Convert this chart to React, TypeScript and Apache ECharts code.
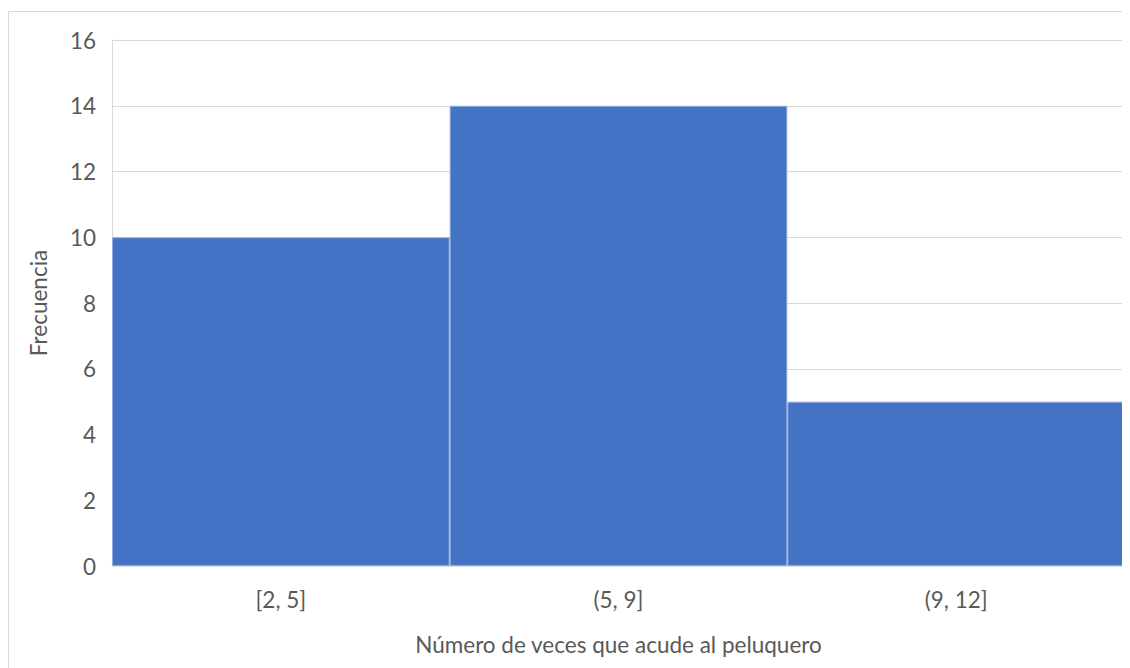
import React, { useEffect, useRef } from "react";
import * as echarts from "echarts";

const categories = ["[2, 5]", "(5, 9]", "(9, 12]"];
const frequencies = [10, 14, 5];
const yTicks = { min: 0, max: 16, interval: 2 };
const xTitle = "Número de veces que acude al peluquero";
const yTitle = "Frecuencia";

export default function App() {
  const ref = useRef<HTMLDivElement>(null);
  useEffect(() => {
    const chart = echarts.init(ref.current!, null, { renderer: "svg" });
    const font = "Lato, 'Open Sans', sans-serif";
    const fs = 22.5;
    chart.setOption({
      animation: false,
      backgroundColor: "#ffffff",
      textStyle: { fontFamily: font },
      graphic: [
        {
          type: "rect",
          shape: { x: 8.5, y: 11.5, width: 1140, height: 680 },
          style: { fill: "none", stroke: "#d9d9d9", lineWidth: 1 },
          silent: true,
          z: -1,
        },
      ],
      grid: { left: 112, right: 5, top: 40, bottom: 102 },
      xAxis: {
        type: "category",
        data: categories,
        name: xTitle,
        nameLocation: "middle",
        nameGap: 67,
        nameTextStyle: { fontSize: fs, color: "#595959", fontFamily: font },
        axisLine: { show: true, lineStyle: { color: "#d9d9d9", width: 1 } },
        axisTick: { show: false },
        axisLabel: { fontSize: fs, color: "#595959", margin: 22, fontFamily: font },
        splitLine: { show: false },
      },
      yAxis: {
        type: "value",
        min: yTicks.min,
        max: yTicks.max,
        interval: yTicks.interval,
        name: yTitle,
        nameLocation: "middle",
        nameGap: 62,
        nameTextStyle: { fontSize: fs, color: "#595959", fontFamily: font },
        axisLine: { show: true, lineStyle: { color: "#d9d9d9", width: 1 } },
        axisTick: { show: false },
        axisLabel: { fontSize: fs, color: "#595959", margin: 16, fontFamily: font },
        splitLine: { show: true, lineStyle: { color: "#d9d9d9", width: 1 } },
      },
      series: [
        {
          type: "bar",
          data: frequencies,
          barCategoryGap: "0%",
          itemStyle: {
            color: "#4472c4",
            borderColor: "#93aedd",
            borderWidth: 1,
          },
        },
      ],
    });
    return () => chart.dispose();
  }, []);
  return <div ref={ref} style={{ width: 1130, height: 668, marginTop: -8, marginLeft: -8 }} />;
}
